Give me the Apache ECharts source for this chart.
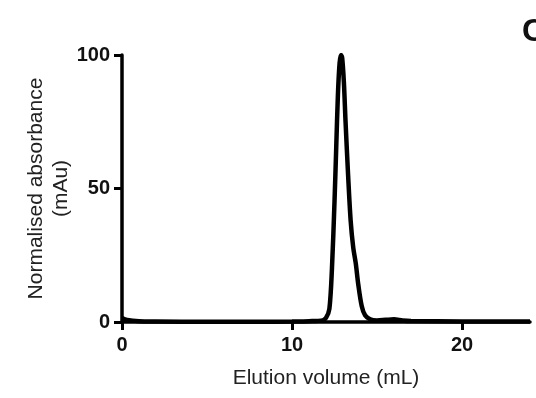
<!DOCTYPE html>
<html>
<head>
<meta charset="utf-8">
<script src="https://cdn.jsdelivr.net/npm/echarts@6/dist/echarts.min.js"></script>
<style>
  html, body { margin: 0; padding: 0; background: #fff; }
  #chart { width: 536px; height: 398px; }
</style>
</head>
<body>
<div id="chart"></div>
<script>
// elution volume (mL) and normalised absorbance
var volume = [0, 0.3, 1, 2, 5, 8, 10, 11, 11.8, 12.0, 12.2, 12.35, 12.5, 12.6, 12.7, 12.8, 12.88, 12.95, 13.05, 13.15, 13.3, 13.45, 13.6, 13.75, 13.9, 14.1, 14.3, 14.6, 15, 15.5, 16, 16.5, 17, 20, 24];
var absorbance = [1.5, 0.8, 0.3, 0.2, 0.1, 0.1, 0.2, 0.3, 0.6, 1.5, 5, 20, 45, 65, 85, 97, 100, 99, 90, 75, 55, 38, 28, 22, 14, 6, 2.5, 1, 0.6, 0.8, 1, 0.6, 0.4, 0.2, 0.2];
var xTicks = [0, 10, 20];
var yTicks = [0, 50, 100];

var points = [];
for (var i = 0; i < volume.length; i++) {
  points.push([volume[i], absorbance[i]]);
}

var myChart = echarts.init(document.getElementById('chart'));

var option = {
  animation: false,
  backgroundColor: '#fff',
  textStyle: { fontFamily: 'Liberation Sans, Arial, sans-serif' },
  grid: { left: 122, right: 6, top: 55, bottom: 76 },
  graphic: [{
    type: 'text',
    left: 522,
    top: 16,
    style: { text: 'C', fontSize: 32, fontWeight: 'bold', fill: '#111', fontFamily: 'Liberation Sans, Arial, sans-serif' }
  }],
  xAxis: {
    type: 'value',
    min: 0,
    max: 24,
    interval: 10,
    name: 'Elution volume (mL)',
    nameLocation: 'middle',
    nameGap: 46,
    nameMoveOverlap: false,
    nameTextStyle: { fontSize: 21, color: '#222' },
    axisLine: { onZero: false, lineStyle: { color: '#000', width: 3.5 } },
    axisTick: { length: 8, customValues: xTicks, lineStyle: { color: '#000', width: 3 } },
    axisLabel: {
      margin: 13,
      fontSize: 20,
      fontWeight: 'bold',
      color: '#111',
      customValues: xTicks
    },
    splitLine: { show: false }
  },
  yAxis: {
    type: 'value',
    min: 0,
    max: 100,
    interval: 50,
    name: 'Normalised absorbance\n(mAu)',
    nameLocation: 'middle',
    nameGap: 48,
    nameMoveOverlap: false,
    nameTextStyle: { fontSize: 21, color: '#222', lineHeight: 25, align: 'center' },
    axisLine: { show: true, lineStyle: { color: '#000', width: 3.5 } },
    axisTick: { show: true, length: 8, customValues: yTicks, lineStyle: { color: '#000', width: 3 } },
    axisLabel: {
      margin: 12,
      fontSize: 20,
      fontWeight: 'bold',
      color: '#111',
      customValues: yTicks
    },
    splitLine: { show: false }
  },
  series: [{
    type: 'line',
    data: points,
    smooth: 0.3,
    symbol: 'none',
    lineStyle: { color: '#000', width: 4.5 }
  }]
};

myChart.setOption(option);
</script>
</body>
</html>
